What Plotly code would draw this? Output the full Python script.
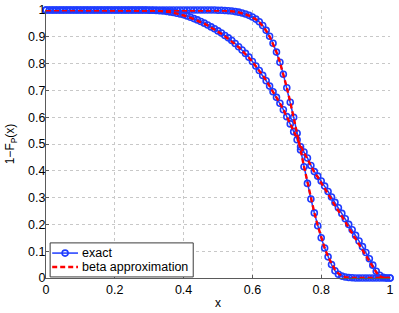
import plotly.graph_objects as go

x_vals = [i / 100 for i in range(101)]

exact_a = [1.0] * 50 + [
    0.999, 0.999, 0.998, 0.997, 0.996, 0.994, 0.992, 0.989, 0.985, 0.980,
    0.974, 0.966, 0.956, 0.942, 0.924, 0.902, 0.876, 0.843, 0.805, 0.760,
    0.710, 0.656, 0.600, 0.540, 0.478, 0.415, 0.353, 0.295, 0.243, 0.195,
    0.150, 0.112, 0.079, 0.050, 0.027, 0.014, 0.007, 0.004, 0.002, 0.001,
] + [0.0] * 11

exact_b = [1.0] * 30 + [
    0.999, 0.999, 0.998, 0.997, 0.996, 0.995, 0.993, 0.991, 0.988, 0.985,
    0.982, 0.978, 0.973, 0.968, 0.963, 0.957, 0.951, 0.944, 0.937, 0.930,
    0.922, 0.914, 0.905, 0.896, 0.886, 0.875, 0.863, 0.851, 0.838, 0.824,
    0.808, 0.791, 0.774, 0.756, 0.736, 0.716, 0.695, 0.674, 0.652, 0.628,
    0.602, 0.575, 0.546, 0.516, 0.490, 0.470, 0.448, 0.420, 0.397, 0.380,
    0.362, 0.343, 0.323, 0.302, 0.282, 0.262, 0.241, 0.221, 0.200, 0.180,
    0.159, 0.138, 0.117, 0.095, 0.072, 0.048, 0.025, 0.010, 0.003, 0.000,
    0.0,
]

beta_a = [1.0] * 50 + [
    0.999, 0.999, 0.998, 0.997, 0.996, 0.994, 0.991, 0.988, 0.984, 0.979,
    0.973, 0.965, 0.955, 0.941, 0.923, 0.901, 0.875, 0.843, 0.805, 0.761,
    0.711, 0.657, 0.600, 0.540, 0.478, 0.416, 0.355, 0.297, 0.244, 0.195,
    0.151, 0.112, 0.079, 0.052, 0.031, 0.017, 0.008, 0.003, 0.001, 0.000,
] + [0.0] * 11

beta_b = [1.0] * 30 + [
    0.999, 0.999, 0.998, 0.997, 0.996, 0.994, 0.992, 0.990, 0.987, 0.984,
    0.980, 0.976, 0.971, 0.966, 0.961, 0.955, 0.949, 0.942, 0.935, 0.927,
    0.919, 0.911, 0.902, 0.893, 0.883, 0.872, 0.861, 0.849, 0.836, 0.822,
    0.807, 0.791, 0.774, 0.756, 0.737, 0.717, 0.696, 0.675, 0.652, 0.628,
    0.603, 0.577, 0.549, 0.520, 0.492, 0.468, 0.444, 0.418, 0.395, 0.376,
    0.355, 0.335, 0.315, 0.294, 0.274, 0.253, 0.233, 0.212, 0.191, 0.170,
    0.149, 0.128, 0.106, 0.084, 0.062, 0.041, 0.021, 0.007, 0.001, 0.000,
    0.0,
]

x_ticks = [0, 0.2, 0.4, 0.6, 0.8, 1]
x_ticklabels = ["0", "0.2", "0.4", "0.6", "0.8", "1"]
y_ticks = [0, 0.1, 0.2, 0.3, 0.4, 0.5, 0.6, 0.7, 0.8, 0.9, 1]
y_ticklabels = ["0", "0.1", "0.2", "0.3", "0.4", "0.5", "0.6", "0.7", "0.8", "0.9", "1"]
legend_labels = ["exact", "beta approximation"]

BLUE = "rgb(30,60,255)"
RED = "rgb(255,0,0)"
FONT = "Liberation Sans, Arial, sans-serif"
RED_DASH = "5px,3px"

fig = go.Figure()

for ys in [exact_a, exact_b]:
    fig.add_trace(go.Scatter(
        x=x_vals, y=ys, mode="lines+markers", name=legend_labels[0],
        showlegend=False,
        line=dict(color=BLUE, width=1.5),
        marker=dict(symbol="circle-open", size=6, color=BLUE, line=dict(width=1.6, color=BLUE)),
        cliponaxis=False,
    ))

for ys in [beta_a, beta_b]:
    fig.add_trace(go.Scatter(
        x=x_vals, y=ys, mode="lines", name=legend_labels[1],
        showlegend=False,
        line=dict(color=RED, width=2.4, dash=RED_DASH),
        cliponaxis=False,
    ))

axis_common = dict(
    showgrid=True, gridcolor="rgb(200,200,200)", griddash="dot", gridwidth=1,
    showline=True, linecolor="rgb(90,90,90)", linewidth=1,
    ticks="inside", ticklen=3, tickcolor="rgb(90,90,90)",
    zeroline=False, mirror=False, automargin=False,
    tickfont=dict(family=FONT, size=12.5, color="black"),
)

fig.update_xaxes(range=[0, 1], tickvals=x_ticks, ticktext=x_ticklabels,
                 title=dict(text="x", font=dict(family=FONT, size=12, color="black"), standoff=2),
                 **axis_common)
fig.update_yaxes(range=[0, 1], tickvals=y_ticks, ticktext=y_ticklabels,
                 ticklabelstandoff=-3,
                 title=dict(text="1\u2212F<sub>P</sub>(x)", font=dict(family=FONT, size=12, color="black"), standoff=10),
                 **axis_common)

# manual MATLAB-style legend (paper coordinates)
lx0, lx1, ly0, ly1 = 0.012, 0.428, 0.004, 0.131
row_y = [0.093, 0.041]
sample_x0, sample_x1, text_x = 0.018, 0.093, 0.100
shapes = [dict(type="rect", xref="paper", yref="paper", x0=lx0, x1=lx1, y0=ly0, y1=ly1,
               line=dict(color="rgb(60,60,60)", width=1), fillcolor="white", layer="above")]
shapes.append(dict(type="line", xref="paper", yref="paper", x0=sample_x0, x1=sample_x1,
                   y0=row_y[0], y1=row_y[0], line=dict(color=BLUE, width=1.5), layer="above"))
shapes.append(dict(type="line", xref="paper", yref="paper", x0=sample_x0, x1=sample_x1,
                   y0=row_y[1], y1=row_y[1], line=dict(color=RED, width=2.4, dash=RED_DASH), layer="above"))
mx = (sample_x0 + sample_x1) / 2
rx, ry = 3.0 / 343.5, 3.0 / 268.0
shapes.append(dict(type="circle", xref="paper", yref="paper", x0=mx - rx, x1=mx + rx,
                   y0=row_y[0] - ry, y1=row_y[0] + ry, line=dict(color=BLUE, width=1.6), layer="above"))
annotations = [
    dict(text=lab, xref="paper", yref="paper", x=text_x, y=yy, xanchor="left", yanchor="middle",
         showarrow=False, font=dict(family=FONT, size=12.5, color="black"))
    for lab, yy in zip(legend_labels, row_y)
]

fig.update_layout(
    width=399, height=313,
    margin=dict(l=46, r=9, t=10, b=35),
    paper_bgcolor="white", plot_bgcolor="white",
    font=dict(family=FONT, size=12, color="black"),
    showlegend=False,
    hovermode=False,
    shapes=shapes,
    annotations=annotations,
)

fig.write_html("out.html", config={"displayModeBar": False, "staticPlot": True},
               post_script="document.body.style.margin='0';document.body.style.overflow='hidden';")
